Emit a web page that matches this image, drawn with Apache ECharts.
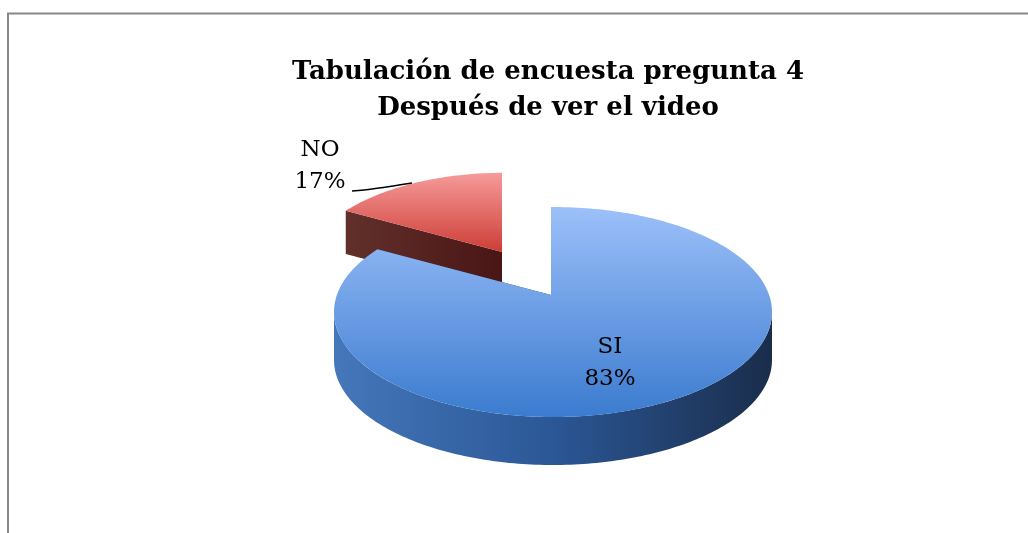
<!DOCTYPE html>
<html>
<head>
<meta charset="utf-8">
<script src="https://cdn.jsdelivr.net/npm/echarts@6/dist/echarts.min.js"></script>
<style>
  html, body { margin: 0; padding: 0; background: #fff; }
  #chart { width: 1028px; height: 533px; }
</style>
</head>
<body>
<div id="chart"></div>
<script>
var categories = ['SI', 'NO'];
var values = [83, 17];

var chart = echarts.init(document.getElementById('chart'));
var total = values.reduce(function (a, b) { return a + b; }, 0);

// projected pie: vertex (v) sits above the centre of the rim ellipse (c)
var pie = {vx: 551, vy: 295, cx: 553, cy: 312, rx: 219, ry: 105, depth: 48};
// exploded slice: shift of the vertex and perspective shrink
var explode = {NO: {dx: -49, dy: -43, k: 0.9}};
var labelPos = {SI: [610, 363], NO: [320, 166]};

var palette = {
    SI: {top: ['#9cc0f9', '#3b7bcf'], side: ['#4577ba', '#2b5796', '#1a2d4b'], wall: '#22406e'},
    NO: {top: ['#f69b9a', '#cd3d36'], side: ['#5e2a26', '#4d1716', '#3e1010'], wall: ['#62302b', '#4a1515']}
};

function geom(name) {
    var e = explode[name];
    if (!e) return pie;
    var vx = pie.vx + e.dx, vy = pie.vy + e.dy;
    return {vx: vx, vy: vy, cx: vx + (pie.cx - pie.vx) * e.k, cy: vy + (pie.cy - pie.vy) * e.k,
        rx: pie.rx * e.k, ry: pie.ry * e.k, depth: pie.depth * e.k};
}

// where the ray at true angle th (clockwise from top) meets the rim
function rimPoint(g, th) {
    var a = Math.sin(th), b = -Math.cos(th);
    var p = (g.vx - g.cx) / g.rx, q = (g.vy - g.cy) / g.ry;
    var pb = p * a + q * b;
    var t = -pb + Math.sqrt(pb * pb - (p * p + q * q - 1));
    return [g.vx + t * a * g.rx, g.vy + t * b * g.ry];
}
// ellipse parameter of a rim point, kept on the same turn as th
function rimParam(g, pt, th) {
    var f = Math.atan2((pt[0] - g.cx) / g.rx, -(pt[1] - g.cy) / g.ry);
    while (f < th - Math.PI) f += Math.PI * 2;
    while (f > th + Math.PI) f -= Math.PI * 2;
    return f;
}
function ell(g, f, dy) {
    return [g.cx + g.rx * Math.sin(f), g.cy - g.ry * Math.cos(f) + (dy || 0)];
}
function arc(g, f0, f1, dy) {
    var pts = [], n = Math.max(2, Math.ceil((f1 - f0) / 0.02));
    for (var i = 0; i <= n; i++) pts.push(ell(g, f0 + (f1 - f0) * i / n, dy));
    return pts;
}
function grad(colors, vertical) {
    var stops = colors.map(function (c, i) { return {offset: i / (colors.length - 1), color: c}; });
    return new echarts.graphic.LinearGradient(0, 0, vertical ? 0 : 1, vertical ? 1 : 0, stops);
}

function renderSlice(params, api) {
    var i = params.dataIndex;
    var name = categories[i];
    var start = 0;
    for (var j = 0; j < i; j++) start += values[j];
    var th0 = start / total * Math.PI * 2;
    var th1 = (start + values[i]) / total * Math.PI * 2;
    var g = geom(name);
    var col = palette[name];
    var mid = (th0 + th1) / 2;
    var base = Math.round((1 - Math.cos(mid)) * 10) * 4;

    var p0 = rimPoint(g, th0), p1 = rimPoint(g, th1);
    var f0 = rimParam(g, p0, th0), f1 = rimParam(g, p1, th1);
    var v = [g.vx, g.vy], vd = [g.vx, g.vy + g.depth];
    var children = [];

    [p0, p1].forEach(function (p) {
        children.push({
            type: 'polygon', z2: base + 1,
            shape: {points: [v, p, [p[0], p[1] + g.depth], vd]},
            style: {fill: Array.isArray(col.wall) ? grad(col.wall, false) : col.wall}
        });
    });

    // the outer side is only seen on the front half of the rim
    var s0 = Math.max(f0, Math.PI / 2), s1 = Math.min(f1, Math.PI * 1.5);
    if (s1 > s0) {
        var topArc = arc(g, s0, s1, 0);
        var botArc = arc(g, s0, s1, g.depth).reverse();
        children.push({
            type: 'polygon', z2: base + 2,
            shape: {points: topArc.concat(botArc)},
            style: {fill: grad(col.side, false)}
        });
    }

    children.push({
        type: 'polygon', z2: base + 3,
        shape: {points: [v].concat(arc(g, f0, f1, 0))},
        style: {fill: grad(col.top, true)}
    });

    var pct = Math.round(values[i] / total * 100);
    children.push({
        type: 'text', z2: 200,
        x: labelPos[name][0], y: labelPos[name][1],
        style: {
            text: name + '\n' + pct + '%',
            fill: '#000', align: 'center', verticalAlign: 'middle',
            font: '23px "DejaVu Serif"', lineHeight: 32
        }
    });
    return {type: 'group', children: children};
}

var option = {
    animation: false,
    title: {
        text: 'Tabulación de encuesta pregunta 4\nDespués de ver el video',
        left: 543, top: 49, textAlign: 'center',
        textStyle: {fontFamily: 'DejaVu Serif', fontWeight: 'bold', fontSize: 26, lineHeight: 36, color: '#000'}
    },
    graphic: [
        {type: 'polyline', shape: {points: [[8, 533], [8, 13.5], [1028, 13.5]]},
            style: {stroke: '#888', lineWidth: 2, fill: null}},
        {type: 'polyline', shape: {points: [[352, 191], [372, 189], [412, 183]], smooth: 0.3},
            style: {stroke: '#000', lineWidth: 1.5, fill: null}, z: 10}
    ],
    series: [{
        type: 'custom',
        coordinateSystem: 'none',
        renderItem: renderSlice,
        data: values.map(function (v, i) { return {name: categories[i], value: v}; })
    }]
};

chart.setOption(option);
</script>
</body>
</html>
